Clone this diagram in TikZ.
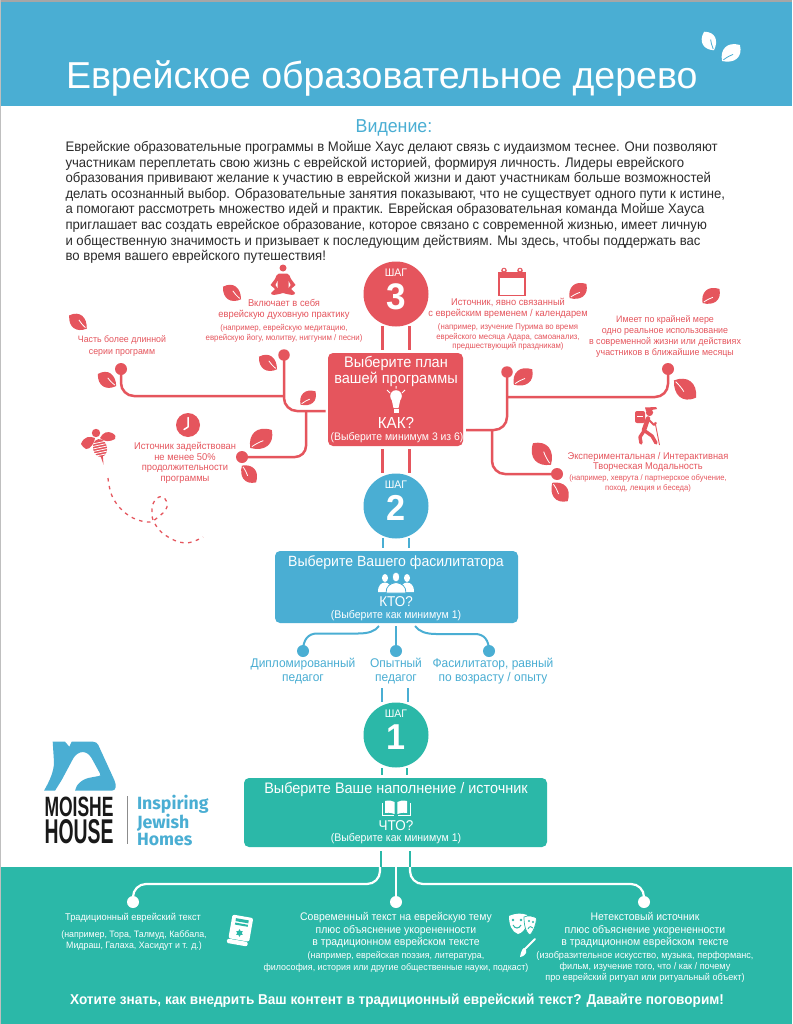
\documentclass[tikz,border=0pt]{standalone}
\usepackage{fontspec}
\usetikzlibrary{shapes.geometric}
\setmainfont[FakeStretch=0.95]{Liberation Sans}
\newfontfamily\plainf{Liberation Sans}
\newfontfamily\fira{Fira Sans}
\definecolor{rd}{HTML}{E5555D}
\definecolor{bl}{HTML}{4AAED3}
\definecolor{tl}{HTML}{2BB8A8}
\definecolor{ink}{HTML}{2B2B2B}
\newcommand\fs[2]{\fontsize{#1}{#2}\selectfont}
\newcommand\leafat[6][white]{%
  \begin{scope}[shift={(#2,#3)},rotate=#4,scale=#5/20]
    \fill[#6] (-10,0) .. controls (-5,-9.5) and (4,-8.5) .. (10,0) .. controls (5,8.5) and (-4,9.5) .. (-10,0) -- cycle;
    \draw[#1,line width=.8pt] (8.5,0) .. controls (5,-.3) and (2,-1) .. (-.5,-2);
  \end{scope}}
\tikzset{
  x=1pt,y=-1pt,
  txt/.style={inner sep=0pt,outer sep=0pt,align=center},
  tr/.style={txt,text=rd},
  tb/.style={txt,text=bl},
  tw/.style={txt,text=white},
  boxn/.style={rounded corners=5pt,inner sep=0pt,outer sep=0pt},
  stepc/.style={circle,inner sep=0pt,outer sep=0pt,minimum size=65pt},
  dotn/.style={circle,inner sep=0pt,outer sep=0pt,minimum size=#1},
  dotn/.default=12pt,
  conn/.style={line width=2.5pt,rounded corners=13pt},
  stub/.style={line width=2.6pt},
}
\begin{document}
\begin{tikzpicture}
\useasboundingbox (0,0) rectangle (792,1024);
% page frame, bands
\fill[white] (0,0) rectangle (792,1024);
\fill[black!35] (0,0) rectangle (792,2);
\fill[black!25] (0,0) rectangle (1,1024);
\fill[bl] (1,2) rectangle (792,106);
\fill[tl] (1,867) rectangle (792,1024);
% title
\node[tw,anchor=west,font={\plainf\fs{37.5}{40}}] (title) at (66,78) {Еврейское образовательное дерево};
\leafat[bl]{709}{41}{-62}{21}{white}
\leafat[bl]{731}{53}{222}{24}{white}
\node[txt,text=bl,font={\fs{18.7}{20}}] (vision) at (394,128) {Видение:};
\node[txt,text=ink,anchor=north west,align=left,font={\fs{13.83}{15.55}}] (body) at (65.5,141.5) {%
Еврейские образовательные программы в Мойше Хаус делают связь с иудаизмом теснее. Они позволяют\\
участникам переплетать свою жизнь с еврейской историей, формируя личность. Лидеры еврейского\\
образования прививают желание к участию в еврейской жизни и дают участникам больше возможностей\\
делать осознанный выбор. Образовательные занятия показывают, что не существует одного пути к истине,\\
а помогают рассмотреть множество идей и практик. Еврейская образовательная команда Мойше Хауса\\
приглашает вас создать еврейское образование, которое связано с современной жизнью, имеет личную\\
и общественную значимость и призывает к последующим действиям. Мы здесь, чтобы поддержать вас\\
во время вашего еврейского путешествия!};
% stubs
\foreach \xx/\a/\b in {382.5/326/350,409.5/326/350,382.5/449/473,409.5/449/473}{\draw[stub,rd] (\xx,\a) -- (\xx,\b);}
\foreach \xx/\a/\b in {383/538/548,409/538/548,382/688/702,408/688/702}{\draw[stub,bl] (\xx,\a) -- (\xx,\b);}
\foreach \xx/\a/\b in {382/768/775,407/768/775,381/851/867,410/851/867}{\draw[stub,tl] (\xx,\a) -- (\xx,\b);}
% step circles
\node[stepc,fill=rd] (s3) at (396,294) {};
\node[tw,font={\fs{11}{12}}] (s3a) at (396,273) {ШАГ};
\node[tw,font={\bfseries\fs{37}{38}}] (s3b) at (396,297) {3};
\node[stepc,fill=bl] (s2) at (396,506) {};
\node[tw,font={\fs{11}{12}}] (s2a) at (396,485) {ШАГ};
\node[tw,font={\bfseries\fs{36}{38}}] (s2b) at (396,508) {2};
\node[stepc,fill=tl] (s1) at (396,735) {};
\node[tw,font={\fs{11}{12}}] (s1a) at (396,714) {ШАГ};
\node[tw,font={\bfseries\fs{36}{38}}] (s1b) at (396,737) {1};
% boxes
\node[boxn,fill=rd,minimum width=135pt,minimum height=93pt] (rb) at (395.5,399.5) {};
\node[tw,font={\fs{15.3}{16}}] (rb1) at (396,371) {Выберите план\\вашей программы};
\node[tw,font={\fs{16}{18}}] (rb2) at (396,423) {КАК?};
\node[tw,font={\fs{10.95}{12}}] (rb3) at (397,438) {(Выберите минимум 3 из 6)};
\node[boxn,fill=bl,minimum width=243pt,minimum height=72pt] (bb) at (396.5,587) {};
\node[tw,font={\fs{14.8}{16}}] (bb1) at (396,563) {Выберите Вашего фасилитатора};
\node[tw,font={\fs{14.2}{16}}] (bb2) at (396,602) {КТО?};
\node[tw,font={\fs{11.1}{12}}] (bb3) at (396,616) {(Выберите как минимум 1)};
\node[boxn,fill=tl,minimum width=303pt,minimum height=69pt] (tb) at (395.5,812.5) {};
\node[tw,font={\fs{15.2}{16}}] (tb1) at (396,789) {Выберите Ваше наполнение / источник};
\node[tw,font={\fs{14.2}{16}}] (tb2) at (396,826) {ЧТО?};
\node[tw,font={\fs{11.1}{12}}] (tb3) at (396,839) {(Выберите как минимум 1)};
% bulb
\fill[white] (396,396) circle (5.8);
\fill[white] (391.5,399) -- (400.5,399) -- (398.5,408) -- (393.5,408) -- cycle;
\fill[white] (393.5,409) rectangle (398.5,413);
\draw[white,line width=1pt] (396,386) -- (396,388.5) (387,390) -- (390,393) (405,390) -- (402,393);
% people
\begin{scope}
\fill[white] (385,578) ellipse (3 and 4);
\fill[white] (407,578) ellipse (3 and 4);
\fill[white] (378,592) .. controls (378,585) and (381,583) .. (385,582.5) .. controls (389,583) and (391,585) .. (392,592) -- cycle;
\fill[white] (400,592) .. controls (401,585) and (403,583) .. (407,582.5) .. controls (411,583) and (414,585) .. (414,592) -- cycle;
\fill[white,draw=bl,line width=.8pt] (396,577) ellipse (3.8 and 5);
\fill[white,draw=bl,line width=.8pt] (386,593) .. controls (386,586) and (390,583.5) .. (396,582.5) .. controls (402,583.5) and (406,586) .. (406,593) -- cycle;
\end{scope}
% open book
\fill[white] (385,801) .. controls (389,800) and (392,800.5) .. (394.6,802) -- (394.6,814) .. controls (392,812.5) and (389,812.5) .. (385,813) -- cycle;
\fill[white] (407,801) .. controls (403,800) and (400,800.5) .. (397.4,802) -- (397.4,814) .. controls (400,812.5) and (403,812.5) .. (407,813) -- cycle;
\draw[white,line width=.9pt] (382,803) -- (382,815.5) -- (394,815.5) (410,803) -- (410,815.5) -- (398,815.5);
% red tree
\node[dotn,fill=rd] (dA) at (121,369) {};
\node[dotn=11.5pt,fill=rd] (dB) at (284,355) {};
\node[dotn,fill=rd] (dC) at (242,457) {};
\node[dotn=11.5pt,fill=rd] (dD) at (507,372) {};
\node[dotn,fill=rd] (dE) at (668,369) {};
\node[dotn,fill=rd] (dF) at (557,474) {};
\coordinate (rL) at (325.5,411);
\coordinate (rR) at (466,430);
\coordinate (jA) at (284,396);
\coordinate (jC) at (306,411);
\coordinate (jE) at (507,397);
\coordinate (jF) at (492,430);
\draw[conn,rd] (rL) -| (dB.center);
\draw[conn,rd] (jA) -| (dA.center);
\draw[conn,rd,rounded corners=11pt] (jC) |- (dC.center);
\draw[conn,rd] (rR) -| (dD.center);
\draw[conn,rd] (jE) -| (dE.center);
\draw[conn,rd] (jF) |- (dF.center);
% leaves
\leafat{78}{322}{-37}{22}{rd}
\leafat{107}{380}{-33}{22}{rd}
\leafat{232}{293}{-35}{22}{rd}
\leafat{268}{363}{-35}{22}{rd}
\leafat{308}{398}{222}{20}{rd}
\leafat{261}{439}{220}{28}{rd}
\leafat{249}{474}{130}{22}{rd}
\leafat{578}{291}{220}{22}{rd}
\leafat{711}{296}{220}{22}{rd}
\leafat{523}{377}{220}{24}{rd}
\leafat{685}{389}{142}{28}{rd}
\leafat{542}{454}{-50}{28}{rd}
\leafat{560}{492}{130}{24}{rd}
% red texts
\node[tr,font={\fs{9.27}{11.5}}] (a1) at (122,346) {Часть более длинной\\серии программ};
\node[tr,font={\fs{9.83}{11}}] (a2) at (284,309.5) {Включает в себя\\еврейскую духовную практику};
\node[tr,font={\fs{8.26}{10}}] (a3) at (284,333) {(например, еврейскую медитацию,\\еврейскую йогу, молитву, ниггуним / песни)};
\node[tr,font={\fs{9.82}{10.7}}] (a4) at (185,463) {Источник задействован\\не менее 50\%\\продолжительности\\программы};
\node[tr,font={\fs{9.78}{11}}] (a5) at (508,308.5) {Источник, явно связанный\\с еврейским временем / календарем};
\node[tr,font={\fs{8.17}{9.2}}] (a6) at (508,337) {(например, изучение Пурима во время\\еврейского месяца Адара, самоанализ,\\предшествующий праздникам)};
\node[tr,font={\fs{9.35}{11}}] (a7) at (665,336.5) {Имеет по крайней мере\\одно реальное использование\\в современной жизни или действиях\\участников в ближайшие месяцы};
\node[tr,font={\fs{9.78}{10.5}}] (a8) at (648,462) {Экспериментальная / Интерактивная\\Творческая Модальность};
\node[tr,font={\fs{8.03}{10}}] (a9) at (648,483) {(например, хеврута / партнерское обучение,\\поход, лекция и беседа)};
% meditating person
\fill[rd] (283,268) circle (3.5);
\fill[rd] (279,273.5) -- (287,273.5) .. controls (289,274) and (290,276) .. (291,279) -- (295.5,285) -- (291,289) -- (295,293) .. controls (295,296) and (290,295) .. (283,293) .. controls (276,295) and (271,296) .. (271,293) -- (275,289) -- (270.5,285) -- (275,279) .. controls (276,276) and (277,274) .. (279,273.5) -- cycle;
\fill[white] (275.5,285) -- (277.5,281) -- (277.5,288) -- cycle (290.5,285) -- (288.5,281) -- (288.5,288) -- cycle;
% calendar
\draw[rd,line width=1.8pt] (499,273) rectangle (525,295.5);
\fill[rd] (498,272) rectangle (526,277.5);
\fill[rd] (504,270.5) circle (2.8); \fill[rd] (520,270.5) circle (2.8);
\fill[white] (504,270) circle (1.4); \fill[white] (520,270) circle (1.4);
% clock
\fill[rd] (188,425) circle (12);
\draw[white,line width=1.5pt,line cap=round,line join=round] (188,417.5) -- (188,427) -- (184,429.5);
% hiker
\fill[rd,rounded corners=2pt] (635,411) rectangle (645,423);
\fill[white] (637,416) rectangle (643,417);
\fill[rd] (649.5,412.5) circle (3.6);
\fill[rd] (645,407.5) -- (656,407) -- (657,409) -- (646,411) -- cycle;
\draw[rd,line width=4.5pt,line cap=round] (648,418.5) -- (644,430);
\draw[rd,line width=2pt,line cap=round,line join=round] (648,419) -- (654,425) -- (656,423);
\draw[rd,line width=3.4pt,line cap=round,line join=round] (644,431) -- (640,437) -- (641,443);
\draw[rd,line width=3.4pt,line cap=round,line join=round] (645,431) -- (652,436) -- (656,443);
\draw[rd,line width=.9pt] (655,422) -- (659.5,445);
% bee
\begin{scope}[shift={(100,448)},rotate=12]
\fill[rd] (0,0) ellipse (7 and 9);
\foreach \yy in {-5.5,-3,-.5,2,4.5,7}{\draw[white,line width=.8pt] (-8,\yy) -- (8,\yy);}
\fill[rd] (-1.2,8) -- (1.2,8) -- (0,17) -- cycle;
\end{scope}
\fill[rd] (96,433) circle (4.2);
\fill[rd] (81,444) .. controls (84,436) and (90,436) .. (95,438) .. controls (95,442) and (90,450) .. (86,449) .. controls (84,448) and (82,446) .. (81,444) -- cycle;
\fill[rd] (100,438) .. controls (103,432) and (108,431) .. (112,433) .. controls (116,435) and (116,437) .. (115,439) .. controls (110,442) and (104,442) .. (100,438) -- cycle;
% trail
\draw[rd,line width=1.3pt,dash pattern=on 3.5pt off 4.5pt] plot[smooth,tension=.7] coordinates {(108,478) (113,498) (128,515) (147,522) (157,518) (167,507) (163,497) (155,500) (152,510) (154,522) (165,535) (185,543) (203,537)};
% blue branches
\node[dotn,fill=bl] (bA) at (303,651) {};
\node[dotn,fill=bl] (bB) at (396,651) {};
\node[dotn,fill=bl] (bC) at (489,651) {};
\coordinate (bbA) at (379,626);
\coordinate (bbB) at (396,626);
\coordinate (bbC) at (415,626);
\draw[bl,line width=2pt] (bbA) .. controls (375,631.5) and (368,633.5) .. (358,633.5) -- (317,633.5) .. controls (308,633.5) and (303,640) .. (bA.center);
\draw[stub,bl,line width=2pt] (bbB) -- (bB.center);
\draw[bl,line width=2pt] (bbC) .. controls (419,631.5) and (426,634) .. (436,634) -- (475,634) .. controls (484,634) and (489,640) .. (bC.center);
\node[tb,font={\fs{12.6}{14}}] (bt1) at (303,671) {Дипломированный\\педагог};
\node[tb,font={\fs{12.6}{14}}] (bt2) at (396,671) {Опытный\\педагог};
\node[tb,font={\fs{12.6}{14}}] (bt3) at (493,671) {Фасилитатор, равный\\по возрасту / опыту};
% logo
\fill[bl] (52.7,741.7) -- (65,741.7) -- (69.3,746.7) -- (71.7,741.7) -- (93,741.7) .. controls (96,741.7) and (97,743) .. (98.3,745) -- (114.3,780) .. controls (116.5,785) and (116.5,790.7) .. (111.7,790.7) -- (75,790.7) .. controls (76,784) and (83,778.5) .. (91.7,777.3) -- (99,776) .. controls (100.5,775.7) and (100.7,775) .. (100,773.5) -- (91.7,758.3) .. controls (87,750) and (78.5,750) .. (73.3,758.3) -- (61.7,780) -- (55,790.7) -- (44,790.7) .. controls (49,782) and (54,772) .. (54,762) -- cycle;
\node[txt,text=black!90,font={\bfseries\plainf\fs{26}{26}},anchor=north west] (logoa) at (44.5,796.5) {\resizebox{69pt}{19.5pt}{MOISHE}};
\node[txt,text=black!90,font={\bfseries\plainf\fs{30}{30}},anchor=north west] (logob) at (44.5,819.5) {\resizebox{69pt}{24pt}{HOUSE}};
\draw[black!45,line width=1pt] (127,796) -- (127,844);
\node[txt,text=bl,anchor=west,align=left,font={\fira\bfseries\fs{17.7}{17.6}}] (logoc) at (137,820.5) {Inspiring\\Jewish\\Homes};
% footer connectors
\node[dotn,fill=white] (wA) at (133,902) {};
\node[dotn,fill=white] (wB) at (396,902) {};
\node[dotn,fill=white] (wC) at (644,902) {};
\coordinate (wsA) at (380,867);
\coordinate (wsB) at (396,867);
\coordinate (wsC) at (410,867);
\coordinate (wjA) at (380,884);
\coordinate (wjC) at (410,884);
\draw[conn,white,line width=2.2pt] (wsA) -- (wjA) -| (wA.center);
\draw[stub,white,line width=2.2pt] (wsB) -- (wB.center);
\draw[conn,white,line width=2.2pt] (wsC) -- (wjC) -| (wC.center);
% footer texts
\node[tw,font={\fs{9.75}{11}}] (f1) at (133,918) {Традиционный еврейский текст};
\node[tw,font={\fs{9.3}{11}}] (f2) at (134,940.5) {(например, Тора, Талмуд, Каббала,\\Мидраш, Галаха, Хасидут и т. д.)};
\node[tw,font={\fs{11}{12.5}}] (f3) at (396,930.5) {Современный текст на еврейскую тему\\плюс объяснение укорененности\\в традиционном еврейском тексте};
\node[tw,font={\fs{9.37}{12}}] (f4) at (396,962) {(например, еврейская поэзия, литература,\\философия, история или другие общественные науки, подкаст)};
\node[tw,font={\fs{11}{12.5}}] (f5) at (645,930.5) {Нетекстовый источник\\плюс объяснение укорененности\\в традиционном еврейском тексте};
\node[tw,font={\fs{9.6}{11}}] (f6) at (645,967) {(изобразительное искусство, музыка, перформанс,\\фильм, изучение того, что / как / почему\\про еврейский ритуал или ритуальный объект)};
\node[tw,font={\fs{14.3}{16}\bfseries}] (f7) at (397,1001) {Хотите знать, как внедрить Ваш контент в традиционный еврейский текст? Давайте поговорим!};
% footer book icon
\begin{scope}[shift={(240,930)},rotate=-10]
\fill[white,rounded corners=2pt] (-10,-14) rectangle (11,10);
\fill[white,rounded corners=2pt] (-11,10.5) rectangle (10,15);
\fill[tl] (-6,-11) rectangle (7,-8);
\fill[tl] (-6,-6.5) rectangle (7,-4.5);
\node[star,star points=6,star point ratio=1.7,fill=tl,inner sep=1.6pt] (fstar) at (0,3) {};
\end{scope}
% masks
\fill[white] (509,916) .. controls (516,913) and (522,913) .. (527,915) .. controls (528,924) and (525,932) .. (518,934) .. controls (512,932) and (509,925) .. (509,916) -- cycle;
\fill[white,draw=tl,line width=.7pt] (524,917) .. controls (528,915) and (533,916) .. (536.5,918) .. controls (536,926) and (533,932) .. (530,935) .. controls (527,934) and (524,928) .. (524,917) -- cycle;
\fill[tl] (513,920) circle (1.4) (521,920) circle (1.4) (529,921) circle (1.1) (533,922) circle (1.1);
\draw[tl,line width=1pt] (513,925) .. controls (515,929) and (519,929) .. (521,925);
\draw[tl,line width=.8pt] (528,929) .. controls (529,926) and (532,926) .. (533,928);
% brush
\draw[white,line width=2pt,line cap=round] (535,939) -- (524,950);
\fill[white] (520,957) .. controls (521,952) and (522,949) .. (524,948) .. controls (526,949) and (527,951) .. (526,953) .. controls (524,956) and (522,957) .. (520,957) -- cycle;
\end{tikzpicture}
\end{document}
